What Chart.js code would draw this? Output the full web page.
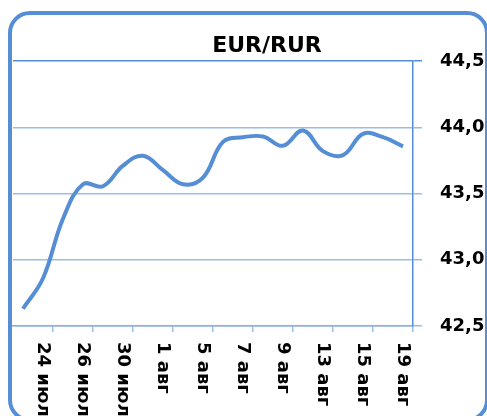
<!DOCTYPE html>
<html>
<head>
<meta charset="utf-8">
<script src="https://cdn.jsdelivr.net/npm/chart.js@4/dist/chart.umd.min.js"></script>
<style>
	body { margin: 0; background: #fff; overflow: hidden; width: 487px; height: 416px; position: relative; }
	#chart1 { position: absolute; left: 0; top: 0; }
	#frame {
		position: absolute; left: 8px; top: 11px; width: 481px; height: 411px;
		box-sizing: border-box; border: 4px solid #558ED5; border-radius: 22px;
		pointer-events: none;
	}
	#title {
		position: absolute; left: 167px; top: 34px; width: 200px; text-align: center;
		font: bold 22px "DejaVu Sans"; line-height: 22px; color: #000;
	}
</style>
</head>
<body>
<canvas id="chart1" width="487" height="416"></canvas>
<div id="title">EUR/RUR</div>
<div id="frame"></div>
<script>
var dates = ['23 июл', '24 июл', '25 июл', '26 июл', '29 июл', '30 июл', '31 июл', '1 авг', '2 авг', '5 авг',
	'6 авг', '7 авг', '8 авг', '9 авг', '12 авг', '13 авг', '14 авг', '15 авг', '16 авг', '19 авг'];
var rates = [42.63, 42.86, 43.31, 43.57, 43.555, 43.71, 43.785, 43.676, 43.57, 43.62,
	43.89, 43.925, 43.93, 43.86, 43.976, 43.82, 43.79, 43.95, 43.925, 43.856];
var yTicks = [42.5, 43.0, 43.5, 44.0, 44.5];

var lineBlue = "#558ED5";
var gridBlue = "#9BBCE6";

var ctx1 = document.getElementById("chart1");
var chart1 = new Chart(ctx1, {
	type: "line",
	data: {
		labels: dates,
		datasets: [{
			label: "EUR/RUR",
			data: rates,
			borderColor: lineBlue,
			borderWidth: 4,
			pointRadius: 0,
			tension: 0.4,
			fill: false
		}]
	},
	options: {
		responsive: false,
		animation: false,
		layout: { padding: { left: 13, top: 61, right: 0, bottom: 0 } },
		plugins: {
			legend: { display: false },
			title: { display: false },
			tooltip: { enabled: false }
		},
		scales: {
			x: {
				offset: true,
				grid: {
					offset: true,
					drawOnChartArea: false,
					drawTicks: true,
					tickLength: 6,
					lineWidth: 1.5,
					color: function(c) {
						if (c.index === undefined) return gridBlue;
						return (c.index % 2 === 0 && c.index > 0) ? gridBlue : "rgba(0,0,0,0)";
					}
				},
				border: { color: "#8AB0E0", width: 1.5 },
				ticks: {
					autoSkip: false,
					minRotation: -90,
					maxRotation: -90,
					padding: 10,
					color: "#000",
					font: { family: "DejaVu Sans", weight: "bold", size: 18 },
					callback: function(v, i) { return i % 2 === 1 ? dates[i] : ""; }
				},
				afterUpdate: function(scale) {
					// text reads top to bottom, starting under the tick
					scale._getXAxisLabelAlignment = function() { return "left"; };
				},
				afterFit: function(scale) {
					scale.height = 90;
					scale.paddingLeft = 0;
					scale.paddingRight = 0;
				}
			},
			y: {
				position: "right",
				min: 42.5,
				max: 44.5,
				afterBuildTicks: function(scale) {
					scale.ticks = yTicks.map(function(v) { return { value: v }; });
				},
				grid: {
					tickLength: 9,
					lineWidth: 1.5,
					color: function(c) {
						return (c.tick && c.tick.value === 44.5) ? lineBlue : gridBlue;
					}
				},
				border: { color: lineBlue, width: 1.5 },
				ticks: {
					padding: 18,
					color: "#000",
					font: { family: "DejaVu Sans", weight: "bold", size: 18 },
					callback: function(v) { return v.toFixed(1).replace(".", ","); }
				},
				afterFit: function(scale) {
					scale.width = 74;
				}
			}
		}
	}
});
</script>
</body>
</html>
